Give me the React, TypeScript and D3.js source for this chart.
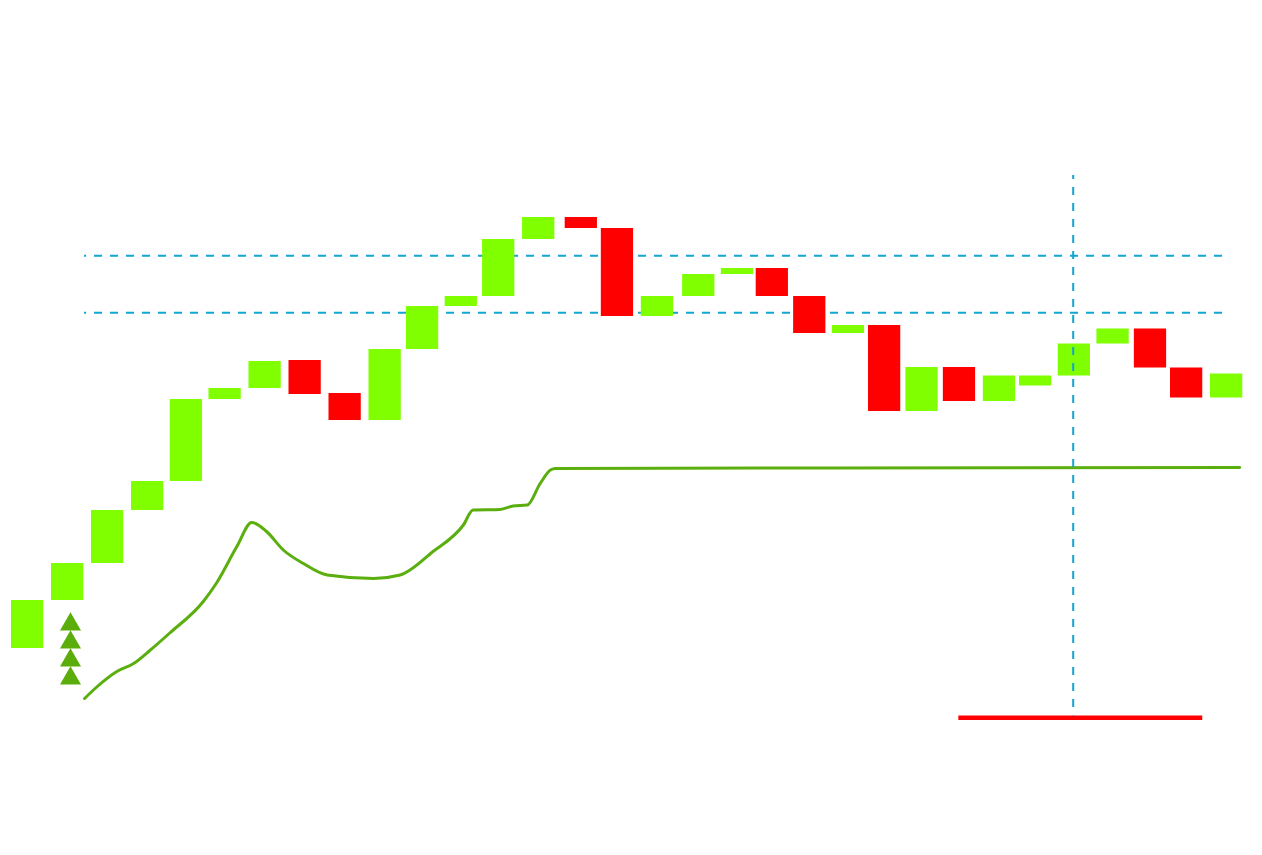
import React, { useEffect, useRef } from 'react';
import * as d3 from 'd3';

// bar positions (days from start) and open/close values
const days = [0, 31, 62, 93, 123, 153, 184, 215, 246, 277, 306, 336, 365, 396, 429, 457, 488, 520, 550, 577, 606, 636, 664, 693, 722, 753, 781, 811, 841, 870, 898, 929];
const opens = [14.4, 24, 31.4, 42, 47.8, 64.2, 66.4, 72, 65.4, 60, 74.2, 82.8, 84.8, 96.2, 100.6, 98.4, 80.8, 84.8, 89.2, 90.4, 84.8, 77.4, 79, 61.8, 70.6, 63.8, 66.9, 68.9, 75.3, 78.3, 70.5, 64.5];
const closes = [24, 31.4, 42, 47.8, 64.2, 66.4, 71.8, 65.2, 60, 74.2, 82.8, 84.8, 96.2, 100.6, 98.4, 80.8, 84.8, 89.2, 90.4, 84.8, 77.4, 79, 61.8, 70.6, 63.8, 68.9, 68.9, 75.3, 78.3, 70.5, 64.5, 69.3];
const barDays = 25;

// smooth trend line
const lineDays = [57, 66, 82, 95, 108, 123, 149, 159, 175, 186.5, 198, 211, 226.5, 245, 281, 301.5, 327, 350.5, 358, 379, 389, 400, 410, 418, 422, 952];
const lineValues = [4.3, 6.5, 9.7, 11.3, 14, 17.4, 23.7, 27.3, 34.7, 39.5, 37.7, 34, 31.3, 29, 28.3, 29, 33.7, 39, 42, 42.1, 42.8, 43, 47.3, 50, 50.3, 50.5];

// dashed reference levels
const levels = [92.86, 81.46];
const levelFrom = 56.6;
const levelTo = 942.4;

// vertical marker
const markerDay = 823;
const markerTop = 109;
const markerBottom = 0.9;

// red range line
const rangeFrom = 734;
const rangeTo = 923;
const rangeValue = 0.46;

// stacked triangle signals
const signalDay = 46.1;
const signalValues = [19.1, 15.5, 11.9, 8.3];

const W = 1262;
const H = 855;

const App: React.FC = () => {
    const svgRef = useRef<SVGSVGElement>(null);

    useEffect(() => {
        if (!svgRef.current) return;
        const svg = d3.select(svgRef.current);
        svg.selectAll('*').remove();

        const x = d3.scaleLinear().domain([0, 929]).range([11, 1210]);
        const y = d3.scaleLinear().domain([0, 120]).range([720, 120]);

        const blue = '#11a5d1';
        const bars = days.map((d, i) => ({ d, o: opens[i], c: closes[i] }));

        // reference lines
        svg.append('g')
            .selectAll('line')
            .data(levels)
            .join('line')
            .attr('x1', x(levelFrom))
            .attr('x2', x(levelTo))
            .attr('y1', d => y(d))
            .attr('y2', d => y(d))
            .attr('stroke', blue)
            .attr('stroke-width', 2)
            .attr('stroke-dasharray', '8 8')
            .attr('stroke-dashoffset', 6);

        // bars
        svg.append('g')
            .selectAll('rect')
            .data(bars)
            .join('rect')
            .attr('x', b => x(b.d))
            .attr('width', b => x(b.d + barDays) - x(b.d))
            .attr('y', b => y(Math.max(b.o, b.c)))
            .attr('height', b => Math.abs(y(b.o) - y(b.c)))
            .attr('fill', b => (b.c >= b.o ? '#7fff00' : '#ff0000'));

        // trend line
        const line = d3.line<number>()
            .x((_, i) => x(lineDays[i]))
            .y(v => y(v))
            .curve(d3.curveMonotoneX);

        svg.append('path')
            .datum(lineValues)
            .attr('d', line)
            .attr('fill', 'none')
            .attr('stroke', '#5aae0e')
            .attr('stroke-width', 3)
            .attr('stroke-linecap', 'round');

        // signals
        svg.append('g')
            .selectAll('path')
            .data(signalValues)
            .join('path')
            .attr('transform', v => `translate(${x(signalDay)},${y(v)})`)
            .attr('d', d3.symbol().type(d3.symbolTriangle).size(191))
            .attr('fill', '#5aad0a');

        // red range
        svg.append('line')
            .attr('x1', x(rangeFrom))
            .attr('x2', x(rangeTo))
            .attr('y1', y(rangeValue))
            .attr('y2', y(rangeValue))
            .attr('stroke', '#ff0000')
            .attr('stroke-width', 4.5);

        // vertical marker
        svg.append('line')
            .attr('x1', x(markerDay))
            .attr('x2', x(markerDay))
            .attr('y1', y(markerTop))
            .attr('y2', y(markerBottom))
            .attr('stroke', blue)
            .attr('stroke-width', 2)
            .attr('stroke-dasharray', '8 8')
            .attr('stroke-dashoffset', 4);
    }, []);

    return (
        <svg
            ref={svgRef}
            width={W}
            height={H}
            style={{ position: 'absolute', left: 0, top: 0, background: '#fff' }}
        />
    );
};

export default App;
